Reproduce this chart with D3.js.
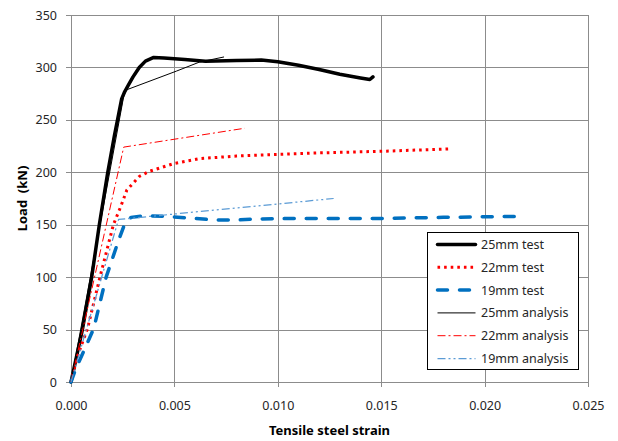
<!DOCTYPE html>
<html>
<head>
<meta charset="utf-8">
<script src="https://cdn.jsdelivr.net/npm/d3@7/dist/d3.min.js"></script>
<style>
  body { margin: 0; background: #fff; }
  svg text { font-family: "Noto Sans", sans-serif; }
</style>
</head>
<body>
<div id="chart"></div>
<script>
// series data, [strain, load kN]
var test25 = [[0,0],[0.00055,50],[0.0010,100],[0.00137,150],[0.00177,199],[0.0021,235],[0.0023,255],
  [0.00245,270],[0.0026,277],[0.0028,284],[0.0030,291],[0.0033,300],[0.0036,306],[0.0040,309.5],[0.0045,309],
  [0.0055,307.5],[0.0065,306],[0.0080,306.5],[0.0092,307],[0.0100,305.5],[0.0110,302],[0.0120,298],
  [0.0130,293.5],[0.0140,290],[0.01445,288.5],[0.0146,291]];
var test22 = [[0,0],[0.0003,24],[0.0008,51],[0.0014,100],[0.00205,150],[0.0024,167],[0.0027,183],
  [0.0033,196],[0.0038,201],[0.0050,208.5],[0.0062,213],[0.0080,215.5],[0.0100,217],[0.0120,218.5],
  [0.0150,220],[0.0183,222.3]];
var test19 = [[0,0],[0.0002,11],[0.0011,51],[0.0017,100],[0.0023,135],[0.0026,151],[0.0029,157],
  [0.0035,158.5],[0.0045,158],[0.0060,156],[0.0070,154.5],[0.0080,154.5],[0.0090,155.5],[0.0110,156],
  [0.0150,156],[0.0180,157],[0.0217,158]];
var analysis25 = [[0,0],[0.0026,278],[0.0051,296.5],[0.0062,305],[0.0074,310]];
var analysis22 = [[0,0],[0.00255,224],[0.0084,242]];
var analysis19 = [[0,0],[0.0023,155],[0.0127,175]];

var seriesNames = ['25mm test', '22mm test', '19mm test', '25mm analysis', '22mm analysis', '19mm analysis'];
var xTicks = [0, 0.005, 0.010, 0.015, 0.020, 0.025];
var yTicks = [0, 50, 100, 150, 200, 250, 300, 350];

var styles = [
  { color: '#000000', width: 3.5, dash: null, cap: 'round' },
  { color: '#ff0000', width: 3, dash: '2.6,4', cap: 'butt' },
  { color: '#0070c0', width: 3.5, dash: '10,12', cap: 'round' },
  { color: '#000000', width: 1, dash: null, cap: 'butt' },
  { color: '#ff0000', width: 1, dash: '8,3,2,3', cap: 'butt' },
  { color: '#5b9bd5', width: 1.25, dash: '8,3,2,3,2,3', cap: 'butt' }
];
var allSeries = [test25, test22, test19, analysis25, analysis22, analysis19];

var W = 618, H = 441;
var margin = { left: 71, top: 15, right: 30, bottom: 59 };

var svg = d3.select('#chart').append('svg')
  .attr('width', W).attr('height', H);

var x = d3.scaleLinear().domain([0, 0.025]).range([margin.left, W - margin.right]);
var y = d3.scaleLinear().domain([0, 350]).range([H - margin.bottom, margin.top]);

// gridlines (Excel style, grey, ticks poke out a bit)
var xAxis = d3.axisBottom(x).tickValues(xTicks).tickFormat(d3.format('.3f'))
  .tickSizeInner(-(y(0) - y(350)) - 5).tickSizeOuter(0).tickPadding(14);
var yAxis = d3.axisLeft(y).tickValues(yTicks)
  .tickSizeInner(-(x(0.025) - x(0)) - 5).tickSizeOuter(0).tickPadding(9);

var gx = svg.append('g').attr('transform', 'translate(0,' + (y(0) + 5) + ')').call(xAxis);
var gy = svg.append('g').attr('transform', 'translate(' + (x(0) - 5) + ',0)').call(yAxis);
[gx, gy].forEach(function(g) {
  g.select('.domain').remove();
  g.selectAll('.tick line').attr('stroke', '#8c8c8c').attr('stroke-width', 1)
    .attr('shape-rendering', 'crispEdges');
  g.selectAll('.tick text').attr('fill', '#262626').attr('font-size', 12.5);
});
gy.selectAll('.tick line').attr('x1', 0);
gx.selectAll('.tick line').attr('y1', 0);

// lines
var line = d3.line().x(function(d) { return x(d[0]); }).y(function(d) { return y(d[1]); });
svg.append('g').selectAll('path').data(allSeries).enter().append('path')
  .attr('d', line)
  .attr('fill', 'none')
  .attr('stroke', function(d, i) { return styles[i].color; })
  .attr('stroke-width', function(d, i) { return styles[i].width; })
  .attr('stroke-dasharray', function(d, i) { return styles[i].dash; })
  .attr('stroke-linecap', function(d, i) { return styles[i].cap; })
  .attr('stroke-linejoin', 'round');

// axis titles
svg.append('text').attr('x', (x(0) + x(0.025)) / 2).attr('y', 435)
  .attr('text-anchor', 'middle').attr('font-weight', 'bold').attr('font-size', 13)
  .attr('fill', '#000').text('Tensile steel strain');
svg.append('text')
  .attr('transform', 'translate(27,' + (y(0) + y(350)) / 2 + ') rotate(-90)')
  .attr('text-anchor', 'middle').attr('font-weight', 'bold').attr('font-size', 13)
  .attr('fill', '#000').attr('xml:space', 'preserve').text('Load  (kN)');

// legend
var lg = svg.append('g').attr('transform', 'translate(427.5,232.5)');
lg.append('rect').attr('width', 151).attr('height', 137)
  .attr('fill', '#fff').attr('stroke', '#000').attr('stroke-width', 1);
var items = lg.selectAll('g.item').data(seriesNames).enter().append('g')
  .attr('transform', function(d, i) { return 'translate(0,' + (12 + i * 22.8) + ')'; });
items.append('line').attr('x1', 10).attr('x2', 48).attr('y1', 0).attr('y2', 0)
  .attr('stroke', function(d, i) { return styles[i].color; })
  .attr('stroke-width', function(d, i) { return styles[i].width; })
  .attr('stroke-dasharray', function(d, i) { return styles[i].dash; })
  .attr('stroke-linecap', function(d, i) { return styles[i].cap; });
items.append('text').attr('x', 53.5).attr('y', 4.5).attr('font-size', 12.5)
  .attr('fill', '#262626').text(function(d) { return d; });
</script>
</body>
</html>
